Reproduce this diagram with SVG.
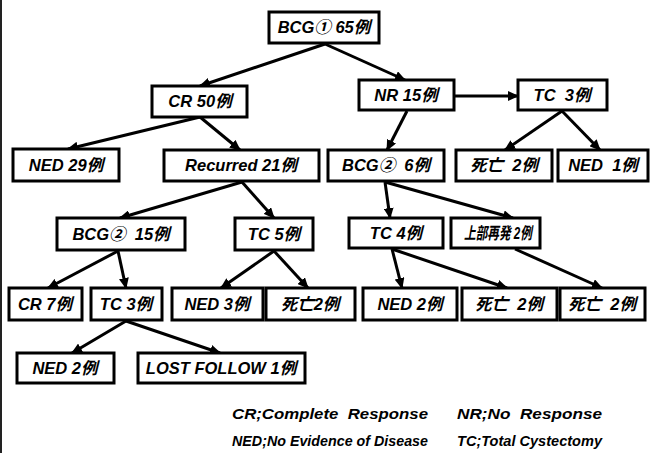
<svg xmlns="http://www.w3.org/2000/svg" width="654" height="453" viewBox="0 0 654 453">
<defs>
<style>
.box rect{fill:#fff;stroke:#000;stroke-width:3}
.box text{font-family:"Liberation Sans","Noto Sans CJK JP",sans-serif;font-weight:bold;font-style:italic;font-size:16.5px;text-anchor:middle;white-space:pre;fill:#000}
.conn line{stroke:#000;stroke-width:3;marker-end:url(#ah)}
.leg{font-family:"Liberation Sans","Noto Sans CJK JP",sans-serif;font-weight:bold;font-style:italic;font-size:14px;white-space:pre;fill:#000}
</style>
<marker id="ah" markerUnits="userSpaceOnUse" markerWidth="12" markerHeight="10" refX="10" refY="5" orient="auto">
<path d="M0,0 L11,5 L0,10 Z" fill="#000"/>
</marker>
</defs>
<rect x="0" y="0" width="654" height="453" fill="#fff"/>
<line x1="1" y1="0" x2="1" y2="453" stroke="#222" stroke-width="2"/>
<g class="conn">
<line x1="325" y1="44" x2="200" y2="86"/>
<line x1="325" y1="44" x2="405" y2="80"/>
<line x1="455" y1="96" x2="518" y2="96"/>
<line x1="200" y1="117" x2="68" y2="149"/>
<line x1="200" y1="117" x2="240" y2="150"/>
<line x1="407" y1="111" x2="387" y2="150"/>
<line x1="562" y1="111" x2="505" y2="150"/>
<line x1="562" y1="111" x2="600" y2="150"/>
<line x1="242" y1="182" x2="120" y2="218"/>
<line x1="242" y1="182" x2="274" y2="218"/>
<line x1="385" y1="182" x2="390" y2="218"/>
<line x1="385" y1="182" x2="513" y2="218"/>
<line x1="118" y1="251" x2="48" y2="288"/>
<line x1="118" y1="251" x2="126" y2="288"/>
<line x1="274" y1="251" x2="221" y2="288"/>
<line x1="274" y1="251" x2="308" y2="288"/>
<line x1="392" y1="249" x2="402" y2="288"/>
<line x1="392" y1="249" x2="507" y2="288"/>
<line x1="515" y1="249" x2="602" y2="288"/>
<line x1="126" y1="321" x2="72" y2="353"/>
<line x1="126" y1="321" x2="220" y2="353"/>
</g>
<g id="n1" class="box"><rect x="269" y="12" width="110" height="31"/><text x="324" y="33">BCG① 65例</text></g>
<g id="n2" class="box"><rect x="152" y="86" width="95" height="31"/><text x="200" y="107">CR 50例</text></g>
<g id="n3" class="box"><rect x="359" y="80" width="95" height="30"/><text x="406" y="101">NR 15例</text></g>
<g id="n4" class="box"><rect x="518" y="80" width="89" height="30"/><text x="562" y="101">TC  3例</text></g>
<g id="n5" class="box"><rect x="13" y="149" width="106" height="32"/><text x="66" y="171">NED 29例</text></g>
<g id="n6" class="box"><rect x="164" y="150" width="155" height="31"/><text x="241" y="171">Recurred 21例</text></g>
<g id="n7" class="box"><rect x="328" y="150" width="116" height="31"/><text x="386" y="171">BCG②  6例</text></g>
<g id="n8" class="box"><rect x="456" y="150" width="96" height="31"/><text x="504" y="171">死亡  2例</text></g>
<g id="n9" class="box"><rect x="558" y="150" width="90" height="31"/><text x="603" y="171">NED  1例</text></g>
<g id="n10" class="box"><rect x="57" y="218" width="128" height="32"/><text x="121" y="240">BCG②  15例</text></g>
<g id="n11" class="box"><rect x="235" y="218" width="78" height="32"/><text x="274" y="240">TC 5例</text></g>
<g id="n12" class="box"><rect x="349" y="218" width="94" height="30"/><text x="396" y="239">TC 4例</text></g>
<g id="n13" class="box"><rect x="451" y="218" width="89" height="30"/><text x="498" y="239" textLength="68" lengthAdjust="spacingAndGlyphs">上部再発 2例</text></g>
<g id="n14" class="box"><rect x="9" y="288" width="73" height="32"/><text x="45" y="310">CR 7例</text></g>
<g id="n15" class="box"><rect x="91" y="288" width="71" height="32"/><text x="126" y="310">TC 3例</text></g>
<g id="n16" class="box"><rect x="172" y="288" width="91" height="32"/><text x="217" y="310">NED 3例</text></g>
<g id="n17" class="box"><rect x="266" y="288" width="89" height="32"/><text x="310" y="310">死亡2例</text></g>
<g id="n18" class="box"><rect x="363" y="288" width="94" height="32"/><text x="410" y="310">NED 2例</text></g>
<g id="n19" class="box"><rect x="462" y="288" width="95" height="32"/><text x="509" y="310">死亡  2例</text></g>
<g id="n20" class="box"><rect x="560" y="288" width="85" height="32"/><text x="602" y="310">死亡  2例</text></g>
<g id="n21" class="box"><rect x="17" y="353" width="97" height="30"/><text x="65" y="374">NED 2例</text></g>
<g id="n22" class="box"><rect x="138" y="353" width="167" height="30"/><text x="221" y="374">LOST FOLLOW 1例</text></g>
<g id="legend">
<text class="leg" x="232" y="419" textLength="196" lengthAdjust="spacingAndGlyphs">CR;Complete  Response</text>
<text class="leg" x="457" y="419" textLength="145" lengthAdjust="spacingAndGlyphs">NR;No  Response</text>
<text class="leg" x="232" y="446" textLength="196" lengthAdjust="spacingAndGlyphs">NED;No Evidence of Disease</text>
<text class="leg" x="457" y="446" textLength="145" lengthAdjust="spacingAndGlyphs">TC;Total Cystectomy</text>
</g>
</svg>
